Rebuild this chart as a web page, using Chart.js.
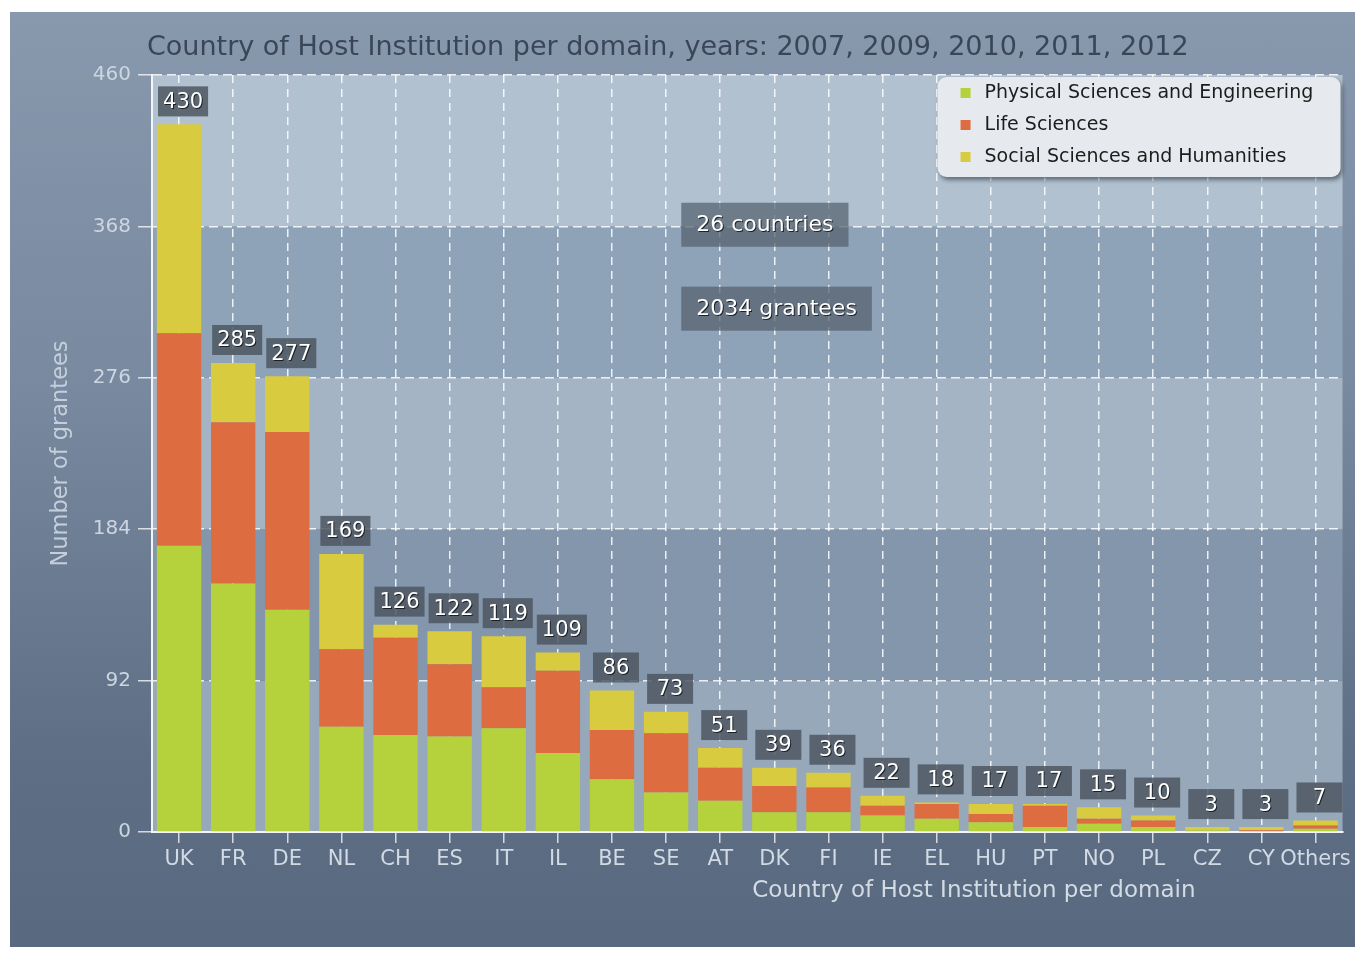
<!DOCTYPE html>
<html>
<head>
<meta charset="utf-8">
<title>Country of Host Institution per domain</title>
<script src="https://cdn.jsdelivr.net/npm/chart.js@4.4.1/dist/chart.umd.min.js"></script>
<style>
  html, body { margin: 0; background: #fff; }
  #panel {
    position: absolute; left: 10px; top: 12px; width: 1345px; height: 935px;
    background: linear-gradient(#8898ad 0%, #7889a0 40%, #5e6e85 80%, #596980 100%);
  }
  canvas { display: block; }
</style>
</head>
<body>
<div id="panel"><canvas id="chart" width="1345" height="935"></canvas></div>
<script>
const countries = ["UK", "FR", "DE", "NL", "CH", "ES", "IT", "IL", "BE", "SE", "AT",
  "DK", "FI", "IE", "EL", "HU", "PT", "NO", "PL", "CZ", "CY", "Others"];
const physical = [174, 151, 135, 64, 59, 58, 63, 48, 32, 24, 19, 12, 12, 10, 8, 6, 3, 5, 3, 1, 0, 2];
const life     = [129,  98, 108, 47, 59, 44, 25, 50, 30, 36, 20, 16, 15,  6, 9, 5, 13, 3, 4, 0, 1, 2];
const social   = [127,  36,  34, 58,  8, 20, 31, 11, 24, 13, 12, 11,  9,  6, 1, 6,  1, 7, 3, 2, 2, 3];
const yTicks = [0, 92, 184, 276, 368, 460];
const notes = [
  { text: "26 countries", at: 369 },
  { text: "2034 grantees", at: 318 }
];

const FONT = "'DejaVu Sans', Verdana, sans-serif";
const colors = { physical: "#b5d23c", life: "#dd6d41", social: "#d8cb40" };
// alternating horizontal bands behind the bars, bottom to top
const bandFill = ["#96a8ba", "#8496ac", "#a4b4c5", "#8ea2b8", "#b1c1cf"];

const totals = countries.map((_, i) => physical[i] + life[i] + social[i]);

const plotBackground = {
  id: "plotBackground",
  beforeDraw(chart) {
    const { ctx, chartArea: a, scales: { y } } = chart;
    ctx.save();
    for (let i = 0; i < yTicks.length - 1; i++) {
      const top = y.getPixelForValue(yTicks[i + 1]);
      const bottom = y.getPixelForValue(yTicks[i]);
      ctx.fillStyle = bandFill[i];
      ctx.fillRect(a.left, top, a.right - a.left, bottom - top);
    }
    ctx.restore();
  }
};

function shadowText(ctx, text, x, y) {
  ctx.fillStyle = "rgba(20, 25, 30, 0.9)";
  ctx.fillText(text, x + 1, y + 1);
  ctx.fillStyle = "#ffffff";
  ctx.fillText(text, x, y);
}

const decorations = {
  id: "decorations",
  afterDatasetsDraw(chart) {
    const { ctx, chartArea: a, scales: { y } } = chart;
    const topMeta = chart.getDatasetMeta(2);

    // total value boxes above each stacked bar
    ctx.save();
    ctx.font = "21px " + FONT;
    ctx.textAlign = "center";
    ctx.textBaseline = "middle";
    totals.forEach((total, i) => {
      const bar = topMeta.data[i];
      const label = String(total);
      const w = Math.max(46, ctx.measureText(label).width + 10);
      const h = 30;
      const cx = bar.x + 4;
      const bottom = bar.y - 8;
      ctx.fillStyle = "rgba(78, 87, 98, 0.85)";
      ctx.fillRect(cx - w / 2, bottom - h, w, h);
      shadowText(ctx, label, cx, bottom - h / 2 + 1);
    });

    // summary notes in the middle of the plot
    ctx.font = "22px " + FONT;
    const midX = (a.left + a.right) / 2;
    notes.forEach((n) => {
      const tw = ctx.measureText(n.text).width;
      const w = tw + 30;
      const h = 44;
      const cy = y.getPixelForValue(n.at);
      const left = midX - 66;
      ctx.fillStyle = "rgba(84, 95, 108, 0.72)";
      ctx.fillRect(left, cy - h / 2, w, h);
      shadowText(ctx, n.text, left + w / 2, cy + 1);
    });
    ctx.restore();
  },
  afterDraw(chart) {
    const { ctx, chartArea: a } = chart;
    ctx.save();

    // chart title
    ctx.font = "27px " + FONT;
    ctx.textBaseline = "middle";
    ctx.textAlign = "left";
    ctx.fillStyle = "#3a4657";
    ctx.fillText("Country of Host Institution per domain, years: 2007, 2009, 2010, 2011, 2012", 137, 36);

    // x axis title
    ctx.font = "23px " + FONT;
    ctx.fillStyle = "#d3dbe4";
    ctx.fillText("Country of Host Institution per domain", (a.left + a.right) / 2 + 5, a.bottom + 59);

    // legend
    const lx = a.right - 405, ly = a.top + 2, lw = 403, lh = 100, r = 9;
    ctx.save();
    ctx.shadowColor = "rgba(30, 40, 55, 0.55)";
    ctx.shadowOffsetX = 2;
    ctx.shadowOffsetY = 3;
    ctx.shadowBlur = 4;
    ctx.fillStyle = "#e6eaee";
    ctx.beginPath();
    ctx.roundRect(lx, ly, lw, lh, r);
    ctx.fill();
    ctx.restore();

    ctx.font = "19px " + FONT;
    chart.data.datasets.forEach((ds, i) => {
      const rowY = ly + 16 + i * 32;
      ctx.fillStyle = ds.backgroundColor;
      ctx.fillRect(lx + 23, rowY - 5, 10, 10);
      ctx.fillStyle = "#1c1c1c";
      ctx.fillText(ds.label, lx + 47, rowY);
    });
    ctx.restore();
  }
};

new Chart(document.getElementById("chart"), {
  type: "bar",
  data: {
    labels: countries,
    datasets: [
      { label: "Physical Sciences and Engineering", data: physical, backgroundColor: colors.physical },
      { label: "Life Sciences", data: life, backgroundColor: colors.life },
      { label: "Social Sciences and Humanities", data: social, backgroundColor: colors.social }
    ]
  },
  options: {
    responsive: false,
    animation: false,
    events: [],
    layout: { padding: { top: 63, right: 10, left: 0, bottom: 0 } },
    datasets: {
      bar: { barPercentage: 0.82, categoryPercentage: 1.0, borderWidth: 0 }
    },
    plugins: {
      legend: { display: false },
      tooltip: { enabled: false }
    },
    scales: {
      x: {
        stacked: true,
        grid: {
          offset: false,
          color: "rgba(255, 255, 255, 0.85)",
          lineWidth: 1.5,
          tickColor: "rgba(255, 255, 255, 0.75)",
          tickLength: 11
        },
        border: { display: true, color: "#f3f5f8", width: 2, dash: [8, 6] },
        ticks: {
          color: "#d2dae4",
          font: { family: FONT, size: 21 },
          padding: 4,
          autoSkip: false,
          maxRotation: 0
        },
        afterFit(scale) { scale.height = 115; }
      },
      y: {
        stacked: true,
        min: 0,
        max: 460,
        afterBuildTicks(scale) { scale.ticks = yTicks.map((v) => ({ value: v })); },
        grid: {
          color: "rgba(255, 255, 255, 0.85)",
          lineWidth: 1.5,
          tickColor: "rgba(255, 255, 255, 0.75)",
          tickLength: 14
        },
        border: { display: true, color: "#f3f5f8", width: 2, dash: [9, 5] },
        ticks: {
          color: "#cdd6e0",
          font: { family: FONT, size: 20 },
          padding: 7
        },
        title: {
          display: true,
          text: "Number of grantees",
          color: "#c4cfdb",
          font: { family: FONT, size: 22.5 },
          padding: { top: 38, bottom: 0 }
        },
        afterFit(scale) { scale.width = 142; }
      }
    }
  },
  plugins: [plotBackground, decorations]
});
</script>
</body>
</html>
